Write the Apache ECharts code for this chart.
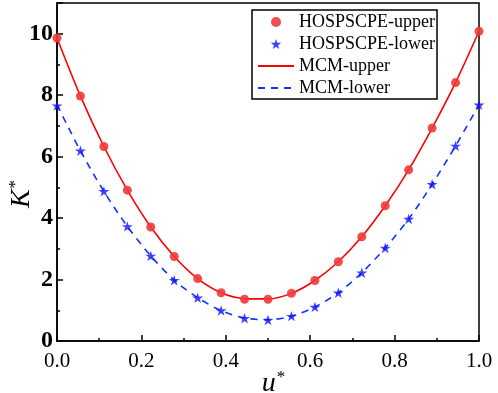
<!DOCTYPE html>
<html>
<head>
<meta charset="utf-8">
<script src="https://cdn.jsdelivr.net/npm/echarts@6/dist/echarts.min.js"></script>
<style>
  html, body { margin: 0; padding: 0; background: #fff; }
  #chart { width: 498px; height: 393px; }
</style>
</head>
<body>
<div id="chart"></div>
<script>
// u* sampled at i/18, i = 0..18
const uValues = [0, 1/18, 2/18, 3/18, 4/18, 5/18, 6/18, 7/18, 8/18, 9/18,
  10/18, 11/18, 12/18, 13/18, 14/18, 15/18, 16/18, 17/18, 1];

// HOSPSCPE markers
const hospUpper = [9.86, 7.97, 6.33, 4.91, 3.71, 2.75, 2.03, 1.57, 1.36, 1.36,
  1.55, 1.97, 2.58, 3.39, 4.40, 5.57, 6.93, 8.41, 10.08];
const hospLower = [7.66, 6.19, 4.87, 3.73, 2.77, 1.98, 1.41, 0.99, 0.74, 0.68,
  0.81, 1.11, 1.57, 2.22, 3.03, 3.97, 5.10, 6.35, 7.69];

// MCM curves
const mcmUpper = [9.86, 7.97, 6.33, 4.91, 3.71, 2.75, 2.03, 1.57, 1.38, 1.37,
  1.55, 1.97, 2.58, 3.39, 4.40, 5.57, 6.93, 8.41, 10.08];
const mcmLower = [7.69, 6.19, 4.87, 3.73, 2.77, 1.98, 1.41, 0.99, 0.75, 0.69,
  0.81, 1.11, 1.57, 2.22, 3.03, 3.97, 5.10, 6.35, 7.69];

const pair = (ys) => ys.map((y, i) => [uValues[i], y]);

const STAR = 'path://M0,-10 L2.245,-3.09 L9.51,-3.09 L3.633,1.18 L5.88,8.09 L0,3.82 L-5.88,8.09 L-3.633,1.18 L-9.51,-3.09 L-2.245,-3.09 Z';
const SERIF = '"Liberation Serif", "Times New Roman", serif';

const myChart = echarts.init(document.getElementById('chart'));

const nameRich = {
  i: { fontFamily: SERIF, fontStyle: 'italic', fontSize: 28, color: '#000' },
  s: { fontFamily: SERIF, fontSize: 17, color: '#000', verticalAlign: 'top', padding: [0, 0, 12, 1] }
};

const option = {
  animation: false,
  backgroundColor: '#fff',
  grid: {
    left: 57, right: 19, top: 3, bottom: 52,
    outerBoundsMode: 'none',
    show: true, borderColor: '#000', borderWidth: 1.5
  },
  legend: {
    orient: 'vertical',
    left: 252, top: 10,
    padding: [3, 2, 2, 5],
    itemGap: 4,
    itemWidth: 36,
    itemHeight: 10,
    borderColor: '#000',
    borderWidth: 1.5,
    backgroundColor: '#fff',
    textStyle: { fontFamily: SERIF, fontSize: 18, color: '#000' },
    data: [
      'HOSPSCPE-upper',
      'HOSPSCPE-lower',
      { name: 'MCM-upper', itemStyle: { opacity: 0 } },
      { name: 'MCM-lower', itemStyle: { opacity: 0 } }
    ]
  },
  xAxis: {
    type: 'value',
    min: 0, max: 1, interval: 0.2,
    name: '{i|u}{s|*}',
    nameLocation: 'middle',
    nameGap: 28,
    nameMoveOverlap: false,
    nameTextStyle: { rich: nameRich, padding: [0, 0, 0, 11] },
    axisLine: { lineStyle: { color: '#000', width: 1.5 } },
    axisTick: { inside: true, length: 6, lineStyle: { color: '#000', width: 1.5 } },
    minorTick: { show: true, splitNumber: 2, length: 3, lineStyle: { color: '#000', width: 1.5 } },
    splitLine: { show: false },
    axisLabel: {
      margin: 10,
      fontFamily: SERIF, fontSize: 21, color: '#000',
      formatter: (v) => v.toFixed(1)
    }
  },
  yAxis: {
    type: 'value',
    min: 0, max: 11, interval: 2,
    name: '{i|K}{s|*}',
    nameLocation: 'middle',
    nameGap: 21,
    nameMoveOverlap: false,
    nameTextStyle: { rich: nameRich, padding: [0, 44, 0, 0] },
    axisLine: { show: true, lineStyle: { color: '#000', width: 1.5 } },
    axisTick: { inside: true, length: 6, lineStyle: { color: '#000', width: 1.5 } },
    minorTick: { show: true, splitNumber: 2, length: 3, lineStyle: { color: '#000', width: 1.5 } },
    splitLine: { show: false },
    axisLabel: {
      margin: 4,
      showMaxLabel: false,
      fontFamily: SERIF, fontSize: 24, fontWeight: 'bold', color: '#000'
    }
  },
  series: [
    {
      name: 'MCM-upper',
      type: 'line',
      smooth: 0.3,
      symbol: 'none',
      data: pair(mcmUpper),
      lineStyle: { color: '#ff0000', width: 1.6 },
      itemStyle: { color: '#ff0000' },
      z: 2
    },
    {
      name: 'MCM-lower',
      type: 'line',
      smooth: 0.3,
      symbol: 'none',
      data: pair(mcmLower),
      lineStyle: { color: '#1033ff', width: 1.6, type: [7, 6] },
      itemStyle: { color: '#1033ff' },
      z: 2
    },
    {
      name: 'HOSPSCPE-upper',
      type: 'scatter',
      symbol: 'circle',
      symbolSize: 9,
      data: pair(hospUpper),
      itemStyle: { color: '#f03a3a', opacity: 0.9 },
      z: 3
    },
    {
      name: 'HOSPSCPE-lower',
      type: 'scatter',
      symbol: STAR,
      symbolKeepAspect: true,
      symbolSize: 11,
      data: pair(hospLower),
      itemStyle: { color: '#1010ff' },
      z: 3
    }
  ]
};

myChart.setOption(option);
</script>
</body>
</html>
